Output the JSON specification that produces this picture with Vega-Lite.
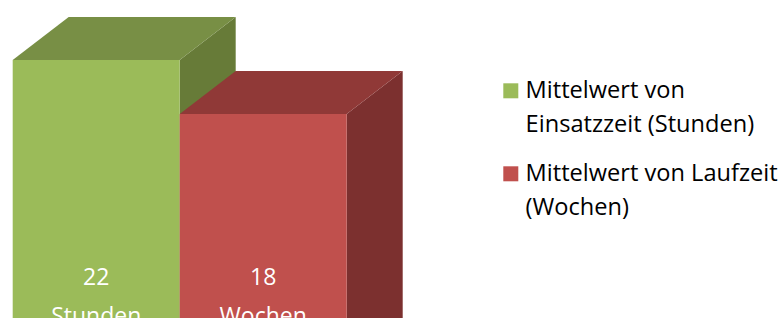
{
  "$schema": "https://vega.github.io/schema/vega-lite/v6.json",
  "width": 780,
  "height": 318,
  "autosize": "none",
  "padding": 0,
  "background": "white",
  "config": {
    "view": {"stroke": null},
    "style": {"guide-label": {"lineHeight": 34}}
  },
  "data": {
    "values": [
      {"series": "Mittelwert von Einsatzzeit (Stunden)", "value": 22, "unit": "Stunden"},
      {"series": "Mittelwert von Laufzeit (Wochen)", "value": 18, "unit": "Wochen"}
    ]
  },
  "encoding": {
    "x": {
      "field": "series",
      "type": "nominal",
      "sort": null,
      "axis": null,
      "scale": {"range": [12.7, 346.7], "paddingInner": 0, "paddingOuter": 0}
    },
    "y": {
      "field": "value",
      "type": "quantitative",
      "axis": null,
      "scale": {"domain": [2.8889, 26.4444], "nice": false, "zero": false}
    }
  },
  "layer": [
    {
      "mark": {
        "type": "point",
        "shape": "M83.5,0L139.5,-43L139.5,320L83.5,363Z",
        "size": 4,
        "filled": true,
        "opacity": 1,
        "strokeWidth": 0,
        "clip": true
      },
      "encoding": {
        "color": {
          "condition": {"test": "datum.unit == 'Stunden'", "value": "#677b38"},
          "value": "#7c302f"
        }
      }
    },
    {
      "mark": {
        "type": "point",
        "shape": "M-83.5,0L83.5,0L139.5,-43L-27.5,-43Z",
        "size": 4,
        "filled": true,
        "opacity": 1,
        "strokeWidth": 0,
        "clip": true
      },
      "encoding": {
        "color": {
          "condition": {"test": "datum.unit == 'Stunden'", "value": "#788f45"},
          "value": "#903937"
        }
      }
    },
    {
      "mark": {"type": "bar", "clip": true},
      "encoding": {
        "y2": {"datum": 0},
        "color": {
          "field": "series",
          "type": "nominal",
          "sort": null,
          "scale": {
            "domain": ["Mittelwert von Einsatzzeit (Stunden)", "Mittelwert von Laufzeit (Wochen)"],
            "range": ["#9bbb59", "#c0504d"]
          },
          "legend": {
            "orient": "none",
            "legendX": 499,
            "legendY": 79,
            "title": null,
            "padding": 0,
            "symbolType": "square",
            "symbolSize": 225,
            "symbolStrokeWidth": 0,
            "labelFont": "Open Sans",
            "labelFontSize": 23.6,
            "labelColor": "#000000",
            "labelOffset": 3,
            "labelLimit": 400,
            "rowPadding": 24,
            "labelExpr": "datum.label == 'Mittelwert von Einsatzzeit (Stunden)' ? ['Mittelwert von', 'Einsatzzeit (Stunden)'] : ['Mittelwert von Laufzeit', '(Wochen)']"
          }
        }
      }
    },
    {
      "mark": {"type": "text", "font": "Open Sans", "fontSize": 23, "fill": "#ffffff", "baseline": "middle", "align": "center"},
      "encoding": {
        "y": {"datum": 5.85},
        "text": {"field": "value", "type": "quantitative"}
      }
    },
    {
      "mark": {"type": "text", "font": "Open Sans", "fontSize": 23, "fill": "#ffffff", "baseline": "middle", "align": "center"},
      "encoding": {
        "y": {"datum": 3.0},
        "text": {"field": "unit", "type": "nominal"}
      }
    }
  ]
}
